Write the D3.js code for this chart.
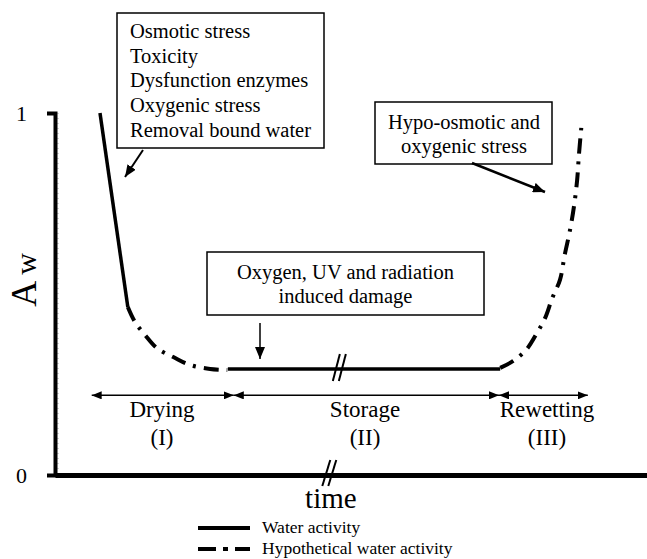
<!DOCTYPE html>
<html>
<head>
<meta charset="utf-8">
<script src="https://cdn.jsdelivr.net/npm/d3@7"></script>
<style>
    body { margin: 0; background: #fff; }
    svg text { font-family: "Liberation Serif", "Times New Roman", "DejaVu Serif", serif; fill: #000; }
</style>
</head>
<body>
<div id="chart"></div>
<script>
// measured water activity (solid line) - [time, Aw]
const dryingMeasured = [[7.6, 1.0], [12.3, 0.464]];
const storageMeasured = [[29.2, 0.293], [75.2, 0.293]];

// hypothetical water activity (dash-dot line)
const dryingHypothetical = [[12.3, 0.464], [13.5, 0.423], [15.2, 0.387], [17.2, 0.351], [20.3, 0.323],
    [22.8, 0.304], [26.2, 0.293], [29.1, 0.290]];
const rewettingHypothetical = [[75.2, 0.296], [77.4, 0.315], [79.7, 0.348], [81.4, 0.392], [82.8, 0.434],
    [84.0, 0.489], [85.3, 0.539], [86.1, 0.608], [87.0, 0.677], [87.7, 0.746], [88.2, 0.815],
    [88.5, 0.884], [88.9, 0.959]];

// axis
const yTicks = [0, 1];
const yLabel = "A";
const ySub = "w";
const xLabel = "time";
const timeBreak = 46.5;

// phases
const phaseNames = ["Drying", "Storage", "Rewetting"];
const phaseNumerals = ["(I)", "(II)", "(III)"];
const phaseBounds = [6.2, 30.2, 75.0, 90.0];

// annotations
const dryingNotes = ["Osmotic stress", "Toxicity", "Dysfunction enzymes", "Oxygenic stress", "Removal bound water"];
const storageNotes = ["Oxygen, UV and radiation", "induced damage"];
const rewettingNotes = ["Hypo-osmotic and", "oxygenic stress"];

const legendLabels = ["Water activity", "Hypothetical water activity"];

const w = 647, h = 559;
const svg = d3.select("#chart").append("svg")
    .attr("width", w)
    .attr("height", h);

const x = d3.scaleLinear().domain([0, 100]).range([55, 647]);
const y = d3.scaleLinear().domain([0, 1]).range([475, 113]);

// arrow heads
const defs = svg.append("defs");
defs.append("marker")
    .attr("id", "head")
    .attr("viewBox", "0 0 10 8")
    .attr("refX", 10).attr("refY", 4)
    .attr("markerWidth", 10).attr("markerHeight", 8)
    .attr("markerUnits", "userSpaceOnUse")
    .attr("orient", "auto-start-reverse")
    .append("path").attr("d", "M0,0L10,4L0,8Z").attr("fill", "#000");
defs.append("marker")
    .attr("id", "bighead")
    .attr("viewBox", "0 0 12 10")
    .attr("refX", 12).attr("refY", 5)
    .attr("markerWidth", 12).attr("markerHeight", 10)
    .attr("markerUnits", "userSpaceOnUse")
    .attr("orient", "auto")
    .append("path").attr("d", "M0,0L12,5L0,10Z").attr("fill", "#000");

//faint dotted minor ticks next to y axis
svg.append("line")
    .attr("x1", x(0) + 3).attr("x2", x(0) + 3)
    .attr("y1", y(1)).attr("y2", y(0))
    .attr("stroke", "#aaa").attr("stroke-width", 1)
    .attr("stroke-dasharray", "1,4");

// y axis
const yAxis = d3.axisLeft(y).tickValues(yTicks).tickFormat(d3.format("d"))
    .tickSizeInner(0).tickSizeOuter(8).tickPadding(28);
const gy = svg.append("g").attr("transform", "translate(" + x(0) + ",0)").call(yAxis);
gy.attr("font-size", null).attr("font-family", null);
gy.select(".domain").attr("stroke-width", 4);
gy.selectAll("text").style("font-size", "22px");

// x axis
const xAxis = d3.axisBottom(x).tickValues([]).tickSizeOuter(0);
const gx = svg.append("g").attr("transform", "translate(0," + y(0) + ")").call(xAxis);
gx.select(".domain").attr("stroke-width", 5);

// axis break on x
[-4, 2].forEach(dx => {
    svg.append("line")
        .attr("x1", x(timeBreak) + dx - 4).attr("y1", y(0) + 11)
        .attr("x2", x(timeBreak) + dx + 4).attr("y2", y(0) - 15)
        .attr("stroke", "#000").attr("stroke-width", 2);
});

// axis titles
const yt = svg.append("text")
    .attr("transform", "translate(36," + 280 + ") rotate(-90)")
    .attr("text-anchor", "middle")
    .attr("font-size", 36)
    .text(yLabel);
yt.append("tspan").attr("dx", 6).attr("font-size", 30).text(ySub);

svg.append("text")
    .attr("x", x(46.6)).attr("y", 508)
    .attr("text-anchor", "middle")
    .attr("font-size", 29)
    .text(xLabel);

// curves
const line = d3.line().x(d => x(d[0])).y(d => y(d[1]));
const curve = d3.line().x(d => x(d[0])).y(d => y(d[1])).curve(d3.curveCatmullRom);

[dryingMeasured, storageMeasured].forEach(s => {
    svg.append("path").attr("d", line(s))
        .attr("fill", "none").attr("stroke", "#000").attr("stroke-width", 3.5);
});
[dryingHypothetical, rewettingHypothetical].forEach(s => {
    svg.append("path").attr("d", curve(s))
        .attr("fill", "none").attr("stroke", "#000").attr("stroke-width", 4)
        .attr("stroke-dasharray", "15,8,3,8");
});

// break on storage line
const sb = x(48.2), sy = y(storageMeasured[0][1]);
[-4, 2].forEach(dx => {
    svg.append("line")
        .attr("x1", sb + dx - 3.5).attr("y1", sy + 12)
        .attr("x2", sb + dx + 3.5).attr("y2", sy - 15)
        .attr("stroke", "#000").attr("stroke-width", 2);
});

// phase arrows and labels
const phaseY = y(0.22);
phaseNames.forEach((name, i) => {
    const x0 = x(phaseBounds[i]), x1 = x(phaseBounds[i + 1]);
    svg.append("line")
        .attr("x1", x0).attr("x2", x1)
        .attr("y1", phaseY).attr("y2", phaseY)
        .attr("stroke", "#000").attr("stroke-width", 1.5)
        .attr("marker-start", "url(#head)")
        .attr("marker-end", "url(#head)");
});
const phaseCenters = [162, 365, 547];
phaseNames.forEach((name, i) => {
    svg.append("text")
        .attr("x", phaseCenters[i]).attr("y", 417)
        .attr("text-anchor", "middle").attr("font-size", 23)
        .text(name);
    svg.append("text")
        .attr("x", phaseCenters[i]).attr("y", 445)
        .attr("text-anchor", "middle").attr("font-size", 23)
        .text(phaseNumerals[i]);
});

// annotation boxes
function box(x0, y0, bw, bh) {
    svg.append("rect")
        .attr("x", x0).attr("y", y0).attr("width", bw).attr("height", bh)
        .attr("fill", "#fff").attr("stroke", "#000").attr("stroke-width", 1.5);
}
function arrow(x1, y1, x2, y2, sw, mk) {
    svg.append("line")
        .attr("x1", x1).attr("y1", y1).attr("x2", x2).attr("y2", y2)
        .attr("stroke", "#000").attr("stroke-width", sw)
        .attr("marker-end", "url(#" + mk + ")");
}

box(117, 13, 207, 135);
dryingNotes.forEach((t, i) => {
    svg.append("text").attr("x", 130).attr("y", 38 + i * 24.7)
        .attr("font-size", 20.5).text(t);
});
arrow(143, 150, 125, 177, 2, "bighead");

box(207, 252, 277, 63);
storageNotes.forEach((t, i) => {
    svg.append("text").attr("x", 345.5).attr("y", 279 + i * 24)
        .attr("text-anchor", "middle").attr("font-size", 20.5).text(t);
});
arrow(260, 323, 260, 359, 1.5, "bighead");

box(375, 102, 177, 62);
rewettingNotes.forEach((t, i) => {
    svg.append("text").attr("x", 464).attr("y", 129 + i * 24)
        .attr("text-anchor", "middle").attr("font-size", 20.5).text(t);
});
arrow(472, 163, 545, 192, 2.5, "bighead");

// legend
const legendDash = [null, "18,7,5,7"];
legendLabels.forEach((t, i) => {
    const ly = 528 + i * 21;
    svg.append("line")
        .attr("x1", 198).attr("x2", 250).attr("y1", ly).attr("y2", ly)
        .attr("stroke", "#000").attr("stroke-width", 4)
        .attr("stroke-dasharray", legendDash[i]);
    svg.append("text").attr("x", 262).attr("y", ly + 5)
        .attr("font-size", 17.5).text(t);
});
</script>
</body>
</html>
